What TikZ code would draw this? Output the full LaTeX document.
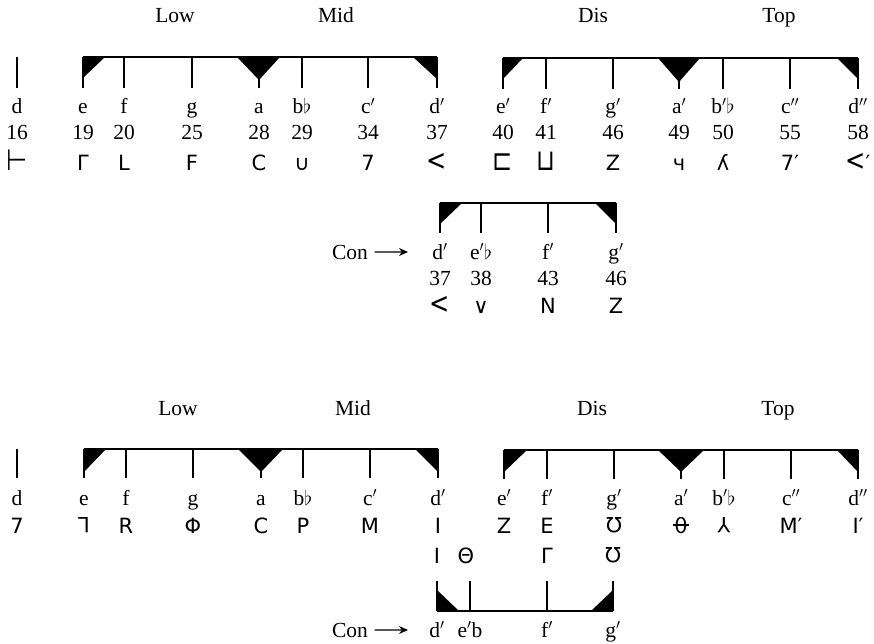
\documentclass[tikz,border=0pt]{standalone}
\usepackage{fontspec}
\usepackage{graphicx}
\setmainfont{Liberation Serif}
\newfontfamily\symfont{DejaVu Sans}
\usetikzlibrary{arrows.meta}

\newcommand{\fl}{$\flat$}
\newcommand{\turned}[1]{\rotatebox[origin=c]{180}{#1}}
\newcommand{\tall}[1]{\scalebox{1.15}[1.4]{#1}}
\newcommand{\barO}{\ooalign{\hfil θ\hfil\cr\hfil\rule[0.34em]{0.8em}{0.07em}\hfil}}

\begin{document}
\begin{tikzpicture}[x=1pt,y=-1pt,line width=1.2pt,
  txt/.style={font=\fontsize{21.5}{24}\selectfont,inner sep=0pt,anchor=base},
  sym/.style={font=\symfont\fontsize{21}{24}\selectfont,inner sep=0pt,anchor=base},
  arr/.style={line width=1.4pt,-{Stealth[length=9pt,width=8pt]}}]
\useasboundingbox (0,0) rectangle (874,644);

% upper chart: titles
\node[txt] (lowA) at (175,23) {Low};
\node[txt] (midA) at (336,23) {Mid};
\node[txt] (disA) at (593,23) {Dis};
\node[txt] (topA) at (779,23) {Top};

% upper chart: lower and middle tetrachords
\draw (17,57) -- (17,88);
\draw (83,57) -- (437,57);
\fill (83,57) -- (105,57) -- (83,78) -- cycle;
\fill (237,57) -- (280,57) -- (259,80) -- cycle;
\fill (413,57) -- (437,57) -- (437,79) -- cycle;
\foreach \x in {83,124,192,259,302,368,437}
  \draw (\x,57) -- (\x,88);
% upper chart: disjunct and top tetrachords
\draw (503,58) -- (858,58);
\fill (503,58) -- (523,58) -- (503,79) -- cycle;
\fill (658,58) -- (700,58) -- (679,82) -- cycle;
\fill (837,58) -- (858,58) -- (858,79) -- cycle;
\foreach \x in {503,546,613,679,723,790,858}
  \draw (\x,58) -- (\x,89);

\foreach \x/\nt/\nm/\sy [count=\i] in {17/d/16/{\tall{⊢}},83/e/19/{Γ},124/f/20/L,
    192/g/25/F,259/a/28/C,302/{b\fl}/29/{∪},368/{c$'$}/34/7,437/{d$'$}/37/{\tall{<}},
    503/{e$'$}/40/{\tall{⊏}},546/{f$'$}/41/{\tall{⊔}},613/{g$'$}/46/Z,679/{a$'$}/49/{ч},
    723/{b$'$\fl}/50/{ʎ},790/{c$''$}/55/{7′},858/{d$''$}/58/{\tall{<}′}}{
  \node[txt] (noteA\i) at (\x,114) {\nt};
  \node[txt] (numA\i) at (\x,140) {\nm};
  \node[sym] (symA\i) at (\x,171) {\sy};
}

% upper chart: conjunct tetrachord
\draw (440,203) -- (616,203);
\fill (440,203) -- (462,203) -- (440,224) -- cycle;
\fill (595,203) -- (616,203) -- (616,224) -- cycle;
\foreach \x in {440,481,548,616}
  \draw (\x,203) -- (\x,233);
\node[txt] (conA) at (350,259) {Con};
\coordinate (tipA) at (408,252);
\draw[arr] ([xshift=6pt]conA.east) -- (tipA);
\foreach \x/\nt/\nm/\sy [count=\i] in {440/{d$'$}/37/{\tall{<}},481/{e$'$\fl}/38/{∨},
    548/{f$'$}/43/N,616/{g$'$}/46/Z}{
  \node[txt] (noteC\i) at (\x,259) {\nt};
  \node[txt] (numC\i) at (\x,285) {\nm};
  \node[sym] (symC\i) at (\x,313) {\sy};
}

% lower chart: titles
\node[txt] (lowB) at (178,415) {Low};
\node[txt] (midB) at (353,415) {Mid};
\node[txt] (disB) at (592,415) {Dis};
\node[txt] (topB) at (778,415) {Top};

% lower chart: lower and middle tetrachords
\draw (17,449) -- (17,478);
\draw (84,449) -- (438,449);
\fill (84,449) -- (106,449) -- (84,472) -- cycle;
\fill (238,449) -- (283,449) -- (261,472) -- cycle;
\fill (415,449) -- (438,449) -- (438,472) -- cycle;
\foreach \x in {84,126,193,261,303,370,438}
  \draw (\x,449) -- (\x,478);
% lower chart: disjunct and top tetrachords
\draw (504,450) -- (858,450);
\fill (504,450) -- (527,450) -- (504,472) -- cycle;
\fill (658,450) -- (704,450) -- (681,472) -- cycle;
\fill (837,450) -- (858,450) -- (858,472) -- cycle;
\foreach \x in {504,547,614,681,724,791,858}
  \draw (\x,450) -- (\x,479);

\foreach \x/\nt/\sy [count=\i] in {17/d/7,84/e/{\turned{L}},126/f/R,193/g/{Φ},
    261/a/C,303/{b\fl}/P,370/{c$'$}/M,438/{d$'$}/I,504/{e$'$}/Z,547/{f$'$}/E,
    614/{g$'$}/{\turned{Ω}},681/{a$'$}/{\barO},724/{b$'$\fl}/{\turned{Y}},
    791/{c$''$}/{M′},858/{d$''$}/{I′}}{
  \node[txt] (noteB\i) at (\x,505) {\nt};
  \node[sym] (symB\i) at (\x,533) {\sy};
}

% lower chart: conjunct tetrachord (turned over)
\foreach \x/\sy [count=\i] in {437/I,466/{Θ},547/{Γ},613/{\turned{Ω}}}
  \node[sym] (symD\i) at (\x,563) {\sy};
\draw (437,611) -- (613,611);
\fill (437,611) -- (459,611) -- (437,590) -- cycle;
\fill (613,611) -- (591,611) -- (613,590) -- cycle;
\foreach \x in {437,470,547,613}
  \draw (\x,581) -- (\x,611);
\node[txt] (conB) at (350,637) {Con};
\coordinate (tipB) at (408,630);
\draw[arr] ([xshift=6pt]conB.east) -- (tipB);
\foreach \x/\nt [count=\i] in {437/{d$'$},470/{e$'$b},547/{f$'$},613/{g$'$}}
  \node[txt] (noteD\i) at (\x,637) {\nt};
\end{tikzpicture}
\end{document}
